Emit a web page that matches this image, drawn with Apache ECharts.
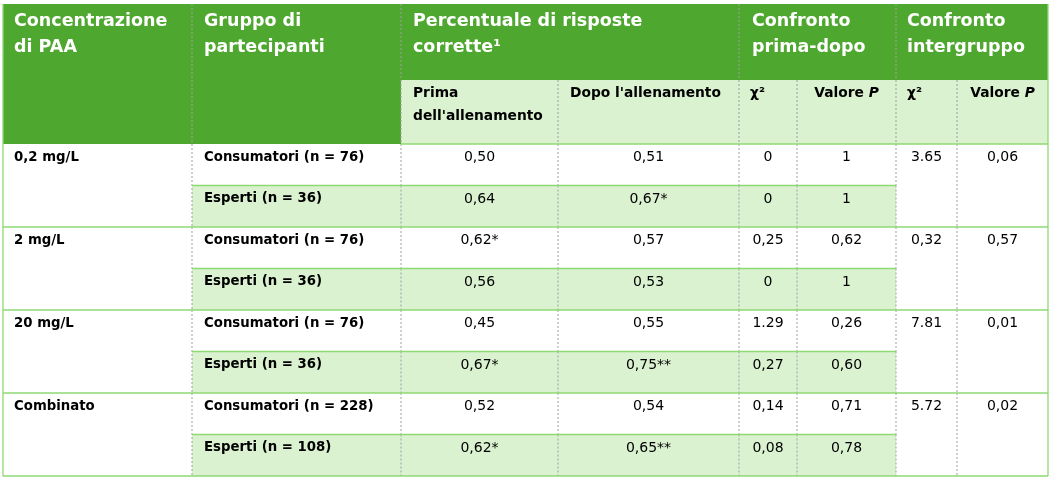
<!DOCTYPE html>
<html>
<head>
<meta charset="utf-8">
<script src="https://cdn.jsdelivr.net/npm/echarts@6/dist/echarts.min.js"></script>
<style>
    html, body {margin:0;padding:0;background:#ffffff;}
    #tabella {width:1053px;height:479px;}
</style>
</head>
<body>
<div id="tabella"></div>
<script>
    // dati della tabella
    var concentrazioni = ['0,2 mg/L', '2 mg/L', '20 mg/L', 'Combinato'];
    var nConsumatori = [76, 76, 76, 228];
    var nEsperti = [36, 36, 36, 108];
    var primaAllenamento = ['0,50', '0,64', '0,62*', '0,56', '0,45', '0,67*', '0,52', '0,62*'];
    var dopoAllenamento = ['0,51', '0,67*', '0,57', '0,53', '0,55', '0,75**', '0,54', '0,65**'];
    var chiPrimaDopo = ['0', '0', '0,25', '0', '1.29', '0,27', '0,14', '0,08'];
    var pPrimaDopo = ['1', '1', '0,62', '1', '0,26', '0,60', '0,71', '0,78'];
    var chiIntergruppo = ['3.65', '0,32', '7.81', '5.72'];
    var pIntergruppo = ['0,06', '0,57', '0,01', '0,02'];

    var intestazioni = ['Concentrazione\ndi PAA', 'Gruppo di\npartecipanti', 'Percentuale di risposte\ncorrette¹', 'Confronto\nprima-dopo', 'Confronto\nintergruppo'];
    var sottoIntestazioni = ['Prima\ndell\'allenamento', 'Dopo l\'allenamento', 'χ²', 'Valore {i|P}', 'χ²', 'Valore {i|P}'];

    // layout
    var FONT = '"DejaVu Sans", sans-serif';
    var VERDE = '#4ea72e', VERDE_CHIARO = '#daf2d0', LINEA = '#8ed973', TRATTO = '#a0a0a0';
    var colW = [189, 209, 157, 181, 58, 99, 61, 91];
    var headH = [76, 64];
    var rowH = 41.5;

    var xs = [0];
    colW.forEach(function (w) { xs.push(xs[xs.length - 1] + w); });
    var ys = [0, headH[0], headH[0] + headH[1]];
    for (var k = 0; k < 8; k++) ys.push(ys[ys.length - 1] + rowH);

    var testoHead = {size: 17.5, bold: true, color: '#ffffff', lh: 26, first: 17, pad: 12};
    var testoSub = {size: 13.8, bold: true, color: '#000000', lh: 23, first: 13, pad: 12};
    var testoBold = {size: 13.3, bold: true, color: '#000000', lh: 18, first: 13.5, pad: 12};
    var testoNum = {size: 14, bold: false, color: '#000000', lh: 18, first: 13.5, align: 'center'};

    var cells = [];
    function cella(c0, c1, r0, r1, fill, text, st, bordi) {
        cells.push({c0: c0, c1: c1, r0: r0, r1: r1, fill: fill, text: text, st: st, bordi: bordi || {}});
    }

    // intestazione
    cella(0, 1, 0, 2, VERDE, intestazioni[0], Object.assign({}, testoHead, {pad: 11}), {right: 'dash', left: true});
    cella(1, 2, 0, 2, VERDE, intestazioni[1], testoHead, {right: 'dash'});
    cella(2, 4, 0, 1, VERDE, intestazioni[2], testoHead, {right: 'dash'});
    cella(4, 6, 0, 1, VERDE, intestazioni[3], Object.assign({}, testoHead, {pad: 13}), {right: 'dash'});
    cella(6, 8, 0, 1, VERDE, intestazioni[4], Object.assign({}, testoHead, {pad: 11}), {right: true});
    sottoIntestazioni.forEach(function (t, i) {
        var st = t.indexOf('{i|') >= 0 ? Object.assign({}, testoSub, {align: 'center'}) : testoSub;
        if (i === 2 || i === 4) st = Object.assign({}, testoSub, {pad: 11});
        cella(2 + i, 3 + i, 1, 2, VERDE_CHIARO, t, st, {right: i === 5 ? true : 'dash', bottom: true});
    });

    // righe dei dati
    concentrazioni.forEach(function (conc, g) {
        var r0 = 2 + g * 2;
        cella(0, 1, r0, r0 + 2, '#ffffff', conc, Object.assign({}, testoBold, {pad: 11}), {right: 'dash', bottom: true, left: true});
        [nConsumatori[g], nEsperti[g]].forEach(function (n, j) {
            var i = g * 2 + j, r = r0 + j;
            var fill = j === 1 ? VERDE_CHIARO : '#ffffff';
            var nome = (j === 0 ? 'Consumatori' : 'Esperti') + ' (n = ' + n + ')';
            cella(1, 2, r, r + 1, fill, nome, testoBold, {right: 'dash', bottom: true});
            cella(2, 3, r, r + 1, fill, primaAllenamento[i], testoNum, {right: 'dash', bottom: true});
            cella(3, 4, r, r + 1, fill, dopoAllenamento[i], testoNum, {right: 'dash', bottom: true});
            cella(4, 5, r, r + 1, fill, chiPrimaDopo[i], testoNum, {right: 'dash', bottom: true});
            cella(5, 6, r, r + 1, fill, pPrimaDopo[i], testoNum, {right: 'dash', bottom: true});
        });
        cella(6, 7, r0, r0 + 2, '#ffffff', chiIntergruppo[g], testoNum, {right: 'dash', bottom: true});
        cella(7, 8, r0, r0 + 2, '#ffffff', pIntergruppo[g], testoNum, {right: true, bottom: true});
    });

    var datiCelle = cells.map(function (c, i) {
        return [xs[c.c0], xs[c.c1], ys[c.r0], ys[c.r1], i];
    });

    function renderCella(params, api) {
        var c = cells[api.value(4)];
        var p0 = api.coord([api.value(0), api.value(2)]);
        var p1 = api.coord([api.value(1), api.value(3)]);
        var x = p0[0], y = p0[1], w = p1[0] - p0[0], h = p1[1] - p0[1];
        var st = c.st;
        var figli = [{type: 'rect', shape: {x: x, y: y, width: w, height: h}, style: {fill: c.fill}, z2: 0}];

        var centro = st.align === 'center';
        figli.push({
            type: 'text',
            z2: 5,
            style: {
                x: centro ? x + w / 2 : x + st.pad,
                y: y + st.first - st.lh / 2,
                text: c.text,
                align: centro ? 'center' : 'left',
                verticalAlign: 'top',
                fill: st.color,
                fontFamily: FONT,
                fontSize: st.size,
                fontWeight: st.bold ? 'bold' : 'normal',
                lineHeight: st.lh,
                rich: {
                    i: {fontStyle: 'italic', fontWeight: 'bold', fontSize: st.size, fontFamily: FONT, fill: st.color, lineHeight: st.lh}
                }
            }
        });

        var b = c.bordi;
        if (b.bottom) {
            figli.push({type: 'line', z2: 10, shape: {x1: x, y1: y + h, x2: x + w, y2: y + h}, style: {stroke: LINEA, lineWidth: 1.3}});
        }
        if (b.right === 'dash') {
            figli.push({type: 'line', z2: 8, shape: {x1: x + w, y1: y, x2: x + w, y2: y + h}, style: {stroke: TRATTO, lineWidth: 1, lineDash: [2, 2]}});
        } else if (b.right) {
            figli.push({type: 'line', z2: 10, shape: {x1: x + w, y1: y, x2: x + w, y2: y + h}, style: {stroke: LINEA, lineWidth: 1.3}});
        }
        if (b.left) {
            figli.push({type: 'line', z2: 10, shape: {x1: x, y1: y, x2: x, y2: y + h}, style: {stroke: LINEA, lineWidth: 1.3}});
        }
        return {type: 'group', children: figli};
    }

    var chart = echarts.init(document.getElementById('tabella'));
    chart.setOption({
        animation: false,
        grid: {left: 3, right: 5, top: 4, bottom: 3},
        xAxis: {type: 'value', min: 0, max: xs[xs.length - 1], show: false},
        yAxis: {type: 'value', min: 0, max: ys[ys.length - 1], inverse: true, show: false},
        series: [{
            type: 'custom',
            silent: true,
            clip: false,
            renderItem: renderCella,
            encode: {x: [0, 1], y: [2, 3]},
            data: datiCelle
        }]
    });
</script>
</body>
</html>
